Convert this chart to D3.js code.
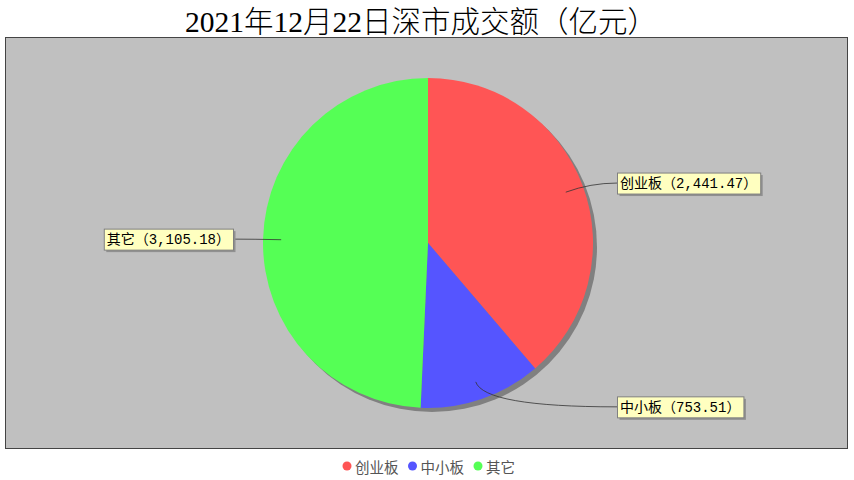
<!DOCTYPE html>
<html>
<head>
<meta charset="utf-8">
<script src="https://cdn.jsdelivr.net/npm/d3@7"></script>
<style>
  html, body { margin: 0; padding: 0; background: #fff; }
  svg { display: block; }
</style>
</head>
<body>
<div id="chart"></div>
<script>
const title = "2021年12月22日深市成交额（亿元）";
const categories = ["创业板", "中小板", "其它"];
const values = [2441.47, 753.51, 3105.18];
const colors = ["#FF5555", "#5555FF", "#55FF55"];

const width = 854, height = 480;
const plot = { x: 5.5, y: 37.5, w: 842, h: 411 };
const cx = 428, cy = 243, r = 165;

const svg = d3.select("#chart")
  .append("svg")
  .attr("width", width)
  .attr("height", height);

// title
svg.append("text")
  .attr("x", width / 2 - 6)
  .attr("y", 32)
  .attr("text-anchor", "middle")
  .attr("font-family", "'Liberation Serif', 'Noto Sans CJK SC', serif")
  .attr("font-size", 29.5)
  .attr("font-weight", 300)
  .attr("fill", "#000")
  .text(title);

// plot background
svg.append("rect")
  .attr("x", plot.x)
  .attr("y", plot.y)
  .attr("width", plot.w)
  .attr("height", plot.h)
  .attr("fill", "#C0C0C0")
  .attr("stroke", "#444")
  .attr("stroke-width", 1);

const data = categories.map((c, i) => ({ name: c, value: values[i], color: colors[i] }));

const pie = d3.pie()
  .value((d) => d.value)
  .sort(null)
  .startAngle(0)
  .endAngle(2 * Math.PI);

const arcs = pie(data);
const arc = d3.arc().innerRadius(0).outerRadius(r);

// shadow
svg.append("circle")
  .attr("cx", cx + 4)
  .attr("cy", cy + 4)
  .attr("r", r)
  .attr("fill", "#808080");

const g = svg.append("g").attr("transform", `translate(${cx},${cy})`);

g.selectAll("path")
  .data(arcs)
  .enter()
  .append("path")
  .attr("d", arc)
  .attr("fill", (d) => d.data.color);

// labels
const fmt = d3.format(",.2f");
const pt = (a, k) => [Math.sin(a) * r * k, -Math.cos(a) * r * k];

const labels = svg.append("g");

arcs.forEach((d) => {
  const a = (d.startAngle + d.endAngle) / 2;
  const right = Math.sin(a) >= 0;
  const anchor = pt(a, 0.89);
  const elbow = pt(a, 1.05);
  const ly = cy + elbow[1];
  const text = `${d.data.name}（${fmt(d.data.value)}）`;

  const lbl = labels.append("g");
  const t = lbl.append("text")
    .attr("font-family", "'Liberation Mono', 'Noto Sans CJK SC', monospace")
    .attr("font-size", 14)
    .attr("fill", "#000")
    .attr("dominant-baseline", "central")
    .text(text);
  const tw = t.node().getComputedTextLength();
  const bw = tw + 6, bh = 21;
  const bx = right ? cx + r + 24 : cx - r - 30 - bw;
  const endX = right ? bx : bx + bw;

  labels.insert("path", ":first-child")
    .attr("d", `M${cx + anchor[0]},${cy + anchor[1]} Q${cx + elbow[0]},${cy + elbow[1]} ${endX},${ly}`)
    .attr("fill", "none")
    .attr("stroke", "#333")
    .attr("stroke-width", 0.8);

  lbl.insert("rect", "text")
    .attr("x", bx + 2.5)
    .attr("y", ly - bh / 2 + 2.5)
    .attr("width", bw)
    .attr("height", bh)
    .attr("fill", "#909090");
  lbl.insert("rect", "text")
    .attr("x", bx + 0.5)
    .attr("y", ly - bh / 2 + 0.5)
    .attr("width", bw)
    .attr("height", bh)
    .attr("fill", "#FFFFC0")
    .attr("stroke", "#808080")
    .attr("stroke-width", 1);
  t.attr("x", bx + 3).attr("y", ly + 1);
});

// legend
const legend = svg.append("g");
let lx = 0;
data.forEach((d) => {
  const item = legend.append("g").attr("transform", `translate(${lx},0)`);
  item.append("circle").attr("cx", 4).attr("cy", 0).attr("r", 4.5).attr("fill", d.color);
  const t = item.append("text")
    .attr("x", 12)
    .attr("y", 0)
    .attr("dominant-baseline", "central")
    .attr("font-family", "'Noto Sans CJK SC', sans-serif")
    .attr("font-size", 14.5)
    .attr("fill", "#555")
    .text(d.name);
  lx += 12 + t.node().getComputedTextLength() + 10;
});
const lw = lx - 10;
legend.attr("transform", `translate(${width / 2 - lw / 2 + 2},466)`);
</script>
</body>
</html>
